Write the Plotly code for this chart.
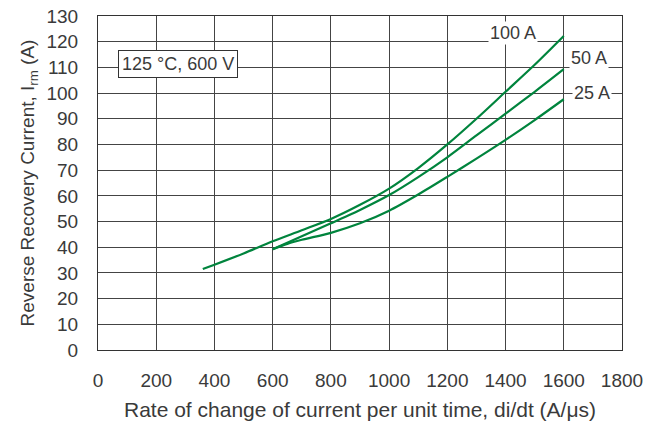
import plotly.graph_objects as go

# 100 A curve
x_100 = [360, 400, 500, 600, 700, 800, 900, 1000, 1100, 1200, 1300, 1400, 1500, 1600]
y_100 = [31.5, 33.2, 37.6, 42.3, 46.6, 51.0, 56.5, 62.8, 70.8, 80.0, 90.0, 100.5, 111.0, 122.2]
# 50 A curve
x_50 = [600, 700, 800, 900, 1000, 1100, 1200, 1300, 1400, 1500, 1600]
y_50 = [39.2, 44.3, 49.3, 54.5, 60.3, 67.3, 75.0, 83.5, 92.0, 100.5, 109.3]
# 25 A curve
x_25 = [600, 650, 700, 800, 900, 1000, 1100, 1200, 1300, 1400, 1500, 1600]
y_25 = [39.2, 41.3, 42.9, 45.6, 49.3, 54.2, 60.5, 67.4, 74.5, 81.8, 89.5, 97.6]

curve_labels = ["100 A", "50 A", "25 A"]
label_x = [1425, 1686, 1697]
label_y = [123.2, 113.6, 99.9]

x_ticks = list(range(0, 1801, 200))
y_ticks = list(range(0, 131, 10))

GREEN = "#00843d"
TXT = "#3a3a3a"
FONT = "Liberation Sans"

fig = go.Figure()
for xs, ys, name in [(x_100, y_100, "100 A"), (x_50, y_50, "50 A"), (x_25, y_25, "25 A")]:
    fig.add_trace(go.Scatter(x=xs, y=ys, mode="lines", name=name,
                             line=dict(color=GREEN, width=2.2, shape="spline", smoothing=0.8),
                             showlegend=False, hoverinfo="skip"))

for t, lx, ly in zip(curve_labels, label_x, label_y):
    fig.add_annotation(x=lx, y=ly, text=t, showarrow=False, bgcolor="white",
                       font=dict(size=18, color=TXT, family=FONT), borderpad=1)

fig.add_annotation(x=276, y=111.3, text="125 °C, 600 V", showarrow=False,
                   bgcolor="white", bordercolor="#333", borderwidth=1, borderpad=3,
                   font=dict(size=18, color=TXT, family=FONT))

fig.update_layout(
    width=663, height=429,
    margin=dict(l=98, r=41, t=16, b=79),
    plot_bgcolor="white", paper_bgcolor="white",
    font=dict(family=FONT, size=18, color=TXT),
    xaxis=dict(range=[0, 1800], tickvals=x_ticks, showgrid=True, gridcolor="#444", gridwidth=1,
               showline=True, linecolor="#333", linewidth=1, mirror=True, zeroline=False,
               ticks="", ticklabelstandoff=13, tickfont=dict(size=19), automargin=False,
               title=dict(text="Rate of change of current per unit time, di/dt (A/μs)",
                          font=dict(size=21), standoff=12)),
    yaxis=dict(range=[0, 130], tickvals=y_ticks, showgrid=True, gridcolor="#444", gridwidth=1,
               showline=True, linecolor="#333", linewidth=1, mirror=True, zeroline=False,
               ticks="", ticklabelstandoff=15, tickfont=dict(size=19), automargin=False,
               title=dict(text="Reverse Recovery Current, I<sub>rm</sub> (A)",
                          font=dict(size=19), standoff=6)),
)

fig.write_html("out.html", config={"displayModeBar": False},
               post_script="document.body.style.margin='0';")
